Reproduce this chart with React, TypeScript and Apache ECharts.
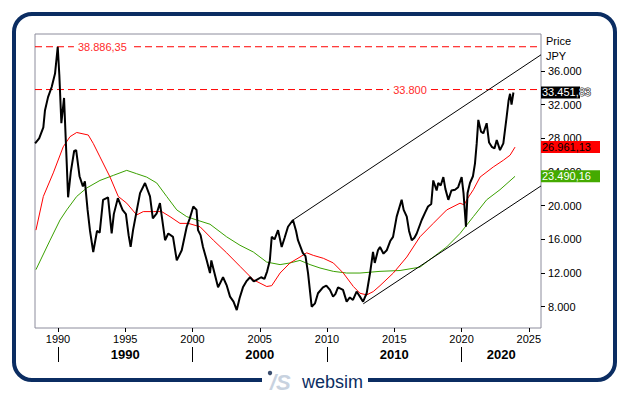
import React, { useEffect, useRef } from "react";
import * as echarts from "echarts";

// ---- data ----
const priceYears = [
  1988.3, 1988.6, 1988.91, 1989.03, 1989.26, 1989.53, 1989.78, 1989.98, 1990.1, 1990.25, 1990.45, 1990.65, 1990.75, 1990.95,
  1991.2, 1991.35, 1991.6, 1991.85, 1992.0, 1992.2, 1992.38, 1992.62, 1992.9, 1993.1, 1993.35, 1993.72, 1993.99, 1994.15,
  1994.45, 1994.8, 1995.05, 1995.25, 1995.4, 1995.58, 1995.9, 1996.1, 1996.47, 1996.84, 1997.05, 1997.34, 1997.58, 1997.96,
  1998.2, 1998.55, 1998.83, 1999.2, 1999.57, 1999.8, 2000.06, 2000.3, 2000.41, 2000.6, 2000.78, 2001.06, 2001.3, 2001.4,
  2001.6, 2001.9, 2002.27, 2002.55, 2002.79, 2003.05, 2003.29, 2003.5, 2003.75, 2004.0, 2004.28, 2004.55, 2004.77, 2005.1,
  2005.35, 2005.55, 2005.75, 2005.89, 2006.1, 2006.36, 2006.63, 2006.85, 2007.1, 2007.47, 2007.7, 2007.84, 2008.2, 2008.4,
  2008.59, 2008.86, 2009.11, 2009.33, 2009.7, 2009.95, 2010.22, 2010.45, 2010.62, 2010.82, 2011.19, 2011.46, 2011.7,
  2011.93, 2012.2, 2012.45, 2012.68, 2012.95, 2013.2, 2013.42, 2013.55, 2013.79, 2013.94, 2014.2, 2014.44, 2014.7, 2014.91,
  2015.18, 2015.55, 2015.7, 2015.93, 2016.1, 2016.3, 2016.5, 2016.67, 2017.04, 2017.3, 2017.51, 2017.75, 2017.9, 2018.15,
  2018.27, 2018.45, 2018.65, 2018.8, 2019.02, 2019.25, 2019.52, 2019.75, 2020.01, 2020.15, 2020.33, 2020.45, 2020.63,
  2020.85, 2021.0, 2021.13, 2021.25, 2021.45, 2021.62, 2021.87, 2022.05, 2022.25, 2022.45, 2022.62, 2022.86, 2023.11,
  2023.36, 2023.5, 2023.61, 2023.72, 2023.86,
];
const priceValues = [
  27400, 28000, 29300, 31300, 32900, 34100, 35700, 38886, 35500, 29800, 32800, 25000, 21000, 24000,
  26500, 26600, 23500, 22300, 22900, 19500, 17000, 14500, 17000, 16800, 20700, 21000, 16700, 19000,
  20900, 19500, 19000, 16500, 15100, 17100, 19800, 21500, 22700, 21100, 18500, 19100, 20300, 15900,
  16700, 16300, 13500, 14700, 17500, 18500, 19900, 19500, 17100, 16500, 15100, 13500, 12000, 13500,
  12200, 10300, 11500, 10500, 9200, 8600, 7600, 9000, 10300, 11000, 11500, 11000, 11200, 11500,
  11300, 12200, 13500, 16300, 16000, 17100, 15100, 16200, 17500, 18300, 17000, 15900, 14400, 14000,
  12000, 8000, 8400, 9600, 10300, 10500, 10000, 9200, 9500, 10300, 10000, 8600, 9100,
  8800, 9800, 9200, 8600, 9600, 12000, 14500, 13200, 14700, 15100, 14300, 14700, 15800, 16300,
  18700, 20700, 19500, 18700, 17000, 15900, 16200, 16700, 18300, 19200, 19900, 20200, 23000, 21800,
  22700, 22400, 23400, 22000, 20700, 21800, 21900, 22200, 23400, 21500, 17500, 21500, 22700,
  23500, 25000, 27400, 30200, 28800, 28600, 29800, 27500, 27000, 26800, 27800, 26600, 27400,
  30600, 32500, 33300, 32000, 33452,
];

const redYears = [
  1988.36, 1988.91, 1989.65, 1990.39, 1990.89, 1991.39, 1992.25, 1992.62, 1993.12, 1993.87, 1994.48, 1995.11, 1995.85,
  1996.34, 1997.09, 1997.71, 1998.33, 1999.07, 1999.69, 2000.56, 2001.55, 2002.54, 2003.53, 2004.52, 2005.52, 2005.89,
  2006.51, 2007.25, 2007.99, 2008.49, 2008.98, 2009.73, 2010.47, 2011.21, 2011.96, 2012.45, 2012.95, 2013.44, 2013.94,
  2014.93, 2015.93, 2016.91, 2017.9, 2018.9, 2019.89, 2020.2, 2020.39, 2020.88, 2021.38, 2022.36, 2023.11, 2023.61, 2023.98,
];
const redValues = [
  17100, 21100, 23900, 27000, 28200, 28700, 28400, 27400, 25800, 23400, 21100, 20300, 18900,
  19300, 19300, 19300, 18700, 17900, 17900, 17500, 15900, 14400, 12800, 11200, 10400, 10500,
  12000, 13200, 13900, 14400, 14100, 13750, 13200, 12000, 10400, 9600, 9400, 9800, 10500,
  12000, 13900, 16300, 17900, 19500, 20300, 20100, 20700, 21900, 23400, 24600, 25400, 26000, 26961.13,
];

const greenYears = [
  1988.36, 1989.41, 1990.15, 1990.65, 1991.39, 1992.13, 1993.12, 1994.11, 1995.11, 1995.85, 1996.59, 1997.34, 1998.08,
  1998.83, 1999.57, 2000.31, 2001.3, 2002.54, 2003.53, 2004.52, 2005.52, 2006.51, 2007.25, 2007.99, 2008.74, 2009.48,
  2010.47, 2011.46, 2012.45, 2013.94, 2015.43, 2016.91, 2017.9, 2018.9, 2019.89, 2020.88, 2021.87, 2022.86, 2023.98,
];
const greenValues = [
  12400, 15900, 18300, 19500, 21100, 22100, 23000, 23600, 24200, 23800, 23400, 22700, 21100,
  19500, 18700, 18300, 17800, 16300, 15300, 14500, 13300, 13000, 13200, 13500, 13000, 12600,
  12200, 12000, 12000, 12200, 12300, 12700, 13900, 15100, 16700, 18700, 20700, 21900, 23490.16,
];

const upperChannel = [[2007.47, 18300], [2025.91, 37930]];
const lowerChannel = [[2012.7, 8350], [2025.91, 22350]];

const refLevels = [38886.35, 33800];
const refLabelYears = [1993.3, 2016.17];
const refDecimals = [2, 0];

const lastPrice = 33451.83;
const lastRed = 26961.13;
const lastGreen = 23490.16;

const yTicks = [8000, 12000, 16000, 20000, 24000, 28000, 32000, 36000];
const yearTicks = [1990, 1995, 2000, 2005, 2010, 2015, 2020, 2025];
const decadeTicks = [1990, 2000, 2010, 2020];
const decadeLabelPos = [1995, 2005, 2015, 2022.95];
const decadeLabels = ["1990", "2000", "2010", "2020"];

const X_MIN = 1988.29;
const X_MAX = 2025.91;
const Y_MIN = 5470;
const Y_MAX = 40400;

function fmtDE(v: number, dec: number): string {
  const s = v.toFixed(dec);
  const parts = s.split(".");
  const i = parts[0].replace(/\B(?=(\d{3})+(?!\d))/g, ".");
  return parts[1] ? i + "," + parts[1] : i;
}

const zip = (xs: number[], ys: number[]) => xs.map((x, i) => [x, ys[i]]);

const FONT = "Arial, 'Liberation Sans', sans-serif";
const NAVY = "#0b2d62";

function tag(value: number, bg: string, color: string, w: number) {
  return {
    coord: [X_MAX, value],
    value,
    label: {
      show: true,
      position: "right",
      distance: 0,
      formatter: () => fmtDE(value, 2),
      backgroundColor: bg,
      color,
      fontSize: 11,
      fontFamily: FONT,
      padding: [1, 1, 0, 1],
      lineHeight: 11,
      width: w,
      overflow: "none",
      textBorderColor: bg,
      textBorderWidth: bg === "#000000" ? 1 : 0,
    },
  };
}

function refLabel(v: number, i: number) {
  return {
    coord: [refLabelYears[i], v],
    value: v,
    label: {
      show: true,
      position: "inside",
      formatter: () => fmtDE(v, refDecimals[i]),
      color: "#ff2a2a",
      fontSize: 11,
      fontFamily: FONT,
      backgroundColor: "#ffffff",
      padding: [0, 4],
    },
  };
}

export default function App() {
  const ref = useRef<HTMLDivElement>(null);
  useEffect(() => {
    if (!ref.current) return;
    const chart = echarts.init(ref.current, null, { renderer: "svg" });
    const refSeries = refLevels.map((v) => ({
      type: "line",
      data: [[X_MIN, v], [X_MAX, v]],
      showSymbol: false,
      silent: true,
      lineStyle: { color: "#ff0000", width: 1, type: [7, 4] },
      z: 2,
    }));
    chart.setOption({
      animation: false,
      backgroundColor: "#ffffff",
      grid: {
        left: 35,
        top: 34,
        width: 506,
        height: 294,
        show: true,
        borderColor: "#8c8c9c",
        borderWidth: 1,
        backgroundColor: "#ffffff",
      },
      xAxis: [
        {
          type: "value",
          min: X_MIN,
          max: X_MAX,
          position: "bottom",
          axisLine: { show: false },
          splitLine: { show: false },
          axisTick: { show: true, length: 4, customValues: yearTicks, lineStyle: { color: "#000" } },
          axisLabel: {
            customValues: yearTicks,
            formatter: (v: number) => String(Math.round(v)),
            fontSize: 11,
            fontFamily: FONT,
            color: "#000",
            margin: 5,
          },
        },
        {
          type: "value",
          min: X_MIN,
          max: X_MAX,
          position: "bottom",
          offset: 19,
          axisLine: { show: false },
          splitLine: { show: false },
          axisTick: { show: true, length: 15, customValues: decadeTicks, lineStyle: { color: "#000" } },
          axisLabel: {
            customValues: decadeLabelPos,
            formatter: (v: number) => {
              const i = decadeLabelPos.findIndex((p) => Math.abs(p - v) < 0.01);
              return i >= 0 ? decadeLabels[i] : "";
            },
            fontSize: 13,
            fontWeight: "bold",
            fontFamily: FONT,
            color: "#000",
            margin: 1,
          },
        },
      ],
      yAxis: {
        type: "value",
        position: "right",
        min: Y_MIN,
        max: Y_MAX,
        axisLine: { show: false },
        splitLine: { show: false },
        axisTick: { show: true, length: 4, customValues: yTicks, lineStyle: { color: "#000" } },
        axisLabel: {
          customValues: yTicks,
          formatter: (v: number) => fmtDE(v, 0),
          fontSize: 11,
          fontFamily: FONT,
          color: "#000",
          margin: 7,
        },
      },
      series: [
        ...refSeries,
        {
          type: "line",
          data: zip(greenYears, greenValues),
          showSymbol: false,
          lineStyle: { color: "#3aa000", width: 1 },
          z: 3,
        },
        {
          type: "line",
          data: zip(redYears, redValues),
          showSymbol: false,
          lineStyle: { color: "#ff0000", width: 1 },
          z: 3,
        },
        {
          type: "line",
          data: upperChannel,
          showSymbol: false,
          lineStyle: { color: "#000", width: 1 },
          z: 3,
        },
        {
          type: "line",
          data: lowerChannel,
          showSymbol: false,
          lineStyle: { color: "#000", width: 1 },
          z: 3,
        },
        {
          type: "line",
          data: zip(priceYears, priceValues),
          showSymbol: false,
          lineStyle: { color: "#000", width: 2 },
          z: 6,
          markPoint: {
            symbol: "rect",
            symbolSize: 0,
            silent: true,
            data: [
              ...refLevels.map((v, i) => refLabel(v, i)),
              tag(lastGreen, "#44aa00", "#ffffff", 57),
              tag(lastRed, "#ff0000", "#000000", 57),
              tag(lastPrice, "#000000", "#ffffff", 37),
            ],
          },
        },
      ],
      graphic: [
        {
          type: "rect",
          shape: { x: 14, y: 14, width: 601, height: 366, r: 18 },
          style: { fill: "none", stroke: NAVY, lineWidth: 4 },
          z: 0,
          silent: true,
        },
        {
          type: "rect",
          shape: { x: 262, y: 374, width: 106, height: 13 },
          style: { fill: "#ffffff" },
          z: 10,
        },
        {
          type: "circle",
          shape: { cx: 270, cy: 373, r: 2.2 },
          style: { fill: "#3b4d6e" },
          z: 11,
        },
        {
          type: "text",
          x: 270,
          y: 382,
          style: {
            text: "/S",
            font: "italic bold 22px Arial",
            fill: "#c8d2df",
            textVerticalAlign: "middle",
            verticalAlign: "middle",
          },
          z: 11,
        },
        {
          type: "text",
          x: 302,
          y: 382,
          style: {
            text: "websim",
            font: "18px Arial",
            fill: NAVY,
            textVerticalAlign: "middle",
            verticalAlign: "middle",
          },
          z: 11,
        },
        {
          type: "text",
          x: 546,
          y: 41,
          style: { text: "Price", font: "11px Arial", fill: "#000", textVerticalAlign: "middle", verticalAlign: "middle" },
          z: 11,
        },
        {
          type: "text",
          x: 546,
          y: 56,
          style: { text: "JPY", font: "11px Arial", fill: "#000", textVerticalAlign: "middle", verticalAlign: "middle" },
          z: 11,
        },
      ],
    });
    return () => chart.dispose();
  }, []);
  return (
    <div
      ref={ref}
      style={{ position: "absolute", left: 0, top: 0, width: 629, height: 395, background: "#fff" }}
    />
  );
}
